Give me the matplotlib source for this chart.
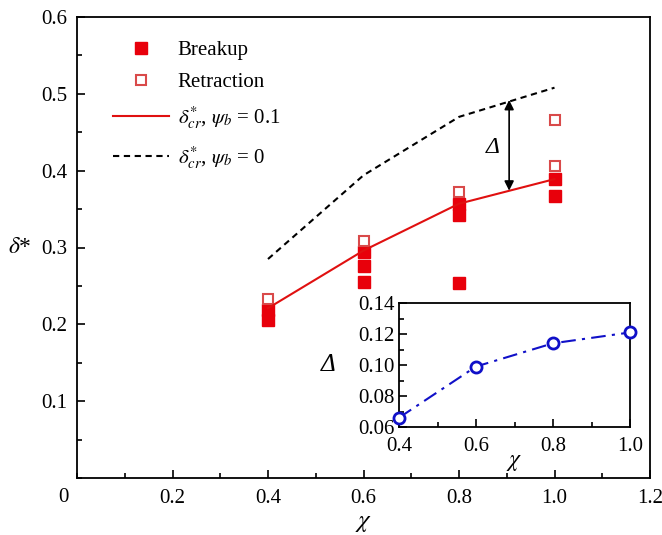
import matplotlib
matplotlib.use("Agg")
import matplotlib.pyplot as plt
from matplotlib.ticker import MultipleLocator, FormatStrFormatter

plt.rcParams['font.family'] = ['Liberation Serif', 'DejaVu Serif']
plt.rcParams['mathtext.fontset'] = 'stix'

# Data
breakup_x = [0.4, 0.4, 0.6, 0.6, 0.6, 0.8, 0.8, 0.8, 1.0, 1.0]
breakup_y = [0.219, 0.205, 0.294, 0.276, 0.255, 0.357, 0.342, 0.254, 0.389, 0.367]
retract_x = [0.4, 0.6, 0.8, 1.0, 1.0]
retract_y = [0.233, 0.308, 0.372, 0.406, 0.466]
chi = [0.4, 0.6, 0.8, 1.0]
delta_cr_psi01 = [0.221, 0.296, 0.357, 0.389]
delta_cr_psi0 = [0.285, 0.394, 0.470, 0.508]
inset_delta = [0.066, 0.099, 0.114, 0.121]
arrow_x = 0.905
arrow_top = 0.492
arrow_bot = 0.374

FS = 15

fig = plt.figure(figsize=(6.62, 5.35), dpi=100)
ax = fig.add_axes([77/662, 1-478/535, (650-77)/662, (478-17)/535])

ax.plot(breakup_x, breakup_y, 's', color='#e8000b', markersize=8, linestyle='none', label='Breakup')
ax.plot(retract_x, retract_y, 's', markerfacecolor='white', markeredgecolor='#d94a4a',
        markeredgewidth=1.5, markersize=7, linestyle='none', label='Retraction')
ax.plot(chi, delta_cr_psi01, '-', color='#e01010', lw=1.5,
        label=r'$\delta^{*}_{cr}$, $\psi_b$ = 0.1')
ax.plot(chi, delta_cr_psi0, '--', color='black', lw=1.5, dashes=(3, 2.2),
        label=r'$\delta^{*}_{cr}$, $\psi_b$ = 0')

ax.annotate('', xy=(arrow_x, arrow_bot), xytext=(arrow_x, arrow_top),
            arrowprops=dict(arrowstyle='<|-|>', color='black', lw=1.2,
                            mutation_scale=14, shrinkA=0, shrinkB=0))
ax.text(0.871, 0.43, 'Δ', fontsize=17, fontstyle='italic', ha='center', va='center')

ax.set_xlim(0, 1.2)
ax.set_ylim(0, 0.6)
ax.xaxis.set_minor_locator(MultipleLocator(0.1))
ax.yaxis.set_minor_locator(MultipleLocator(0.05))
ax.tick_params(which='both', direction='in', top=False, right=False, labelsize=FS, width=1.2)
ax.tick_params(which='major', length=6)
ax.tick_params(which='minor', length=3.5)
ax.set_xticks([0.2, 0.4, 0.6, 0.8, 1.0, 1.2])
ax.set_xticklabels(['0.2', '0.4', '0.6', '0.8', '1.0', '1.2'])
ax.set_yticks([0.1, 0.2, 0.3, 0.4, 0.5, 0.6])
ax.set_yticklabels(['0.1', '0.2', '0.3', '0.4', '0.5', '0.6'])
ax.tick_params(axis='x', pad=8)
ax.tick_params(axis='y', pad=7)
for s in ax.spines.values():
    s.set_linewidth(1.3)
fig.text(63/662, 1-497/535, '0', fontsize=FS, ha='center', va='center')

ax.set_xlabel(r'$\chi$', fontsize=18, labelpad=3)
ax.text(-0.1, 0.3, r'$\delta$*', fontsize=17, ha='center', va='center', transform=ax.get_yaxis_transform())

leg = ax.legend(loc='upper left', bbox_to_anchor=(0.03, 0.99), frameon=False, fontsize=FS,
                handlelength=2.7, handletextpad=0.4, labelspacing=0.6)

# Inset
ia = fig.add_axes([399/662, 1-427/535, (630-399)/662, (427-303)/535])
ia.plot(chi, inset_delta, '-.', color='#1010c8', lw=1.5, dashes=(7, 3, 1.5, 3),
        marker='o', markersize=8, markerfacecolor='white', markeredgecolor='#1010c8',
        markeredgewidth=2, clip_on=False, zorder=5)
ia.set_xlim(0.4, 1.0)
ia.set_ylim(0.06, 0.14)
ia.xaxis.set_major_locator(MultipleLocator(0.2))
ia.xaxis.set_minor_locator(MultipleLocator(0.1))
ia.yaxis.set_major_locator(MultipleLocator(0.02))
ia.yaxis.set_minor_locator(MultipleLocator(0.01))
ia.yaxis.set_major_formatter(FormatStrFormatter('%.2f'))
ia.xaxis.set_major_formatter(FormatStrFormatter('%.1f'))
ia.tick_params(which='both', direction='in', top=False, right=False, labelsize=FS, width=1.2)
ia.tick_params(which='major', length=6)
ia.tick_params(which='minor', length=3.5)
ia.tick_params(axis='x', pad=7)
ia.tick_params(axis='y', pad=3)
for s in ia.spines.values():
    s.set_linewidth(1.3)
ia.set_xlabel(r'$\chi$', fontsize=17, labelpad=-3)
ia.set_ylabel('Δ', fontsize=18, fontstyle='italic', rotation=0, labelpad=22, va='center')

fig.savefig('out.png', dpi=100)
